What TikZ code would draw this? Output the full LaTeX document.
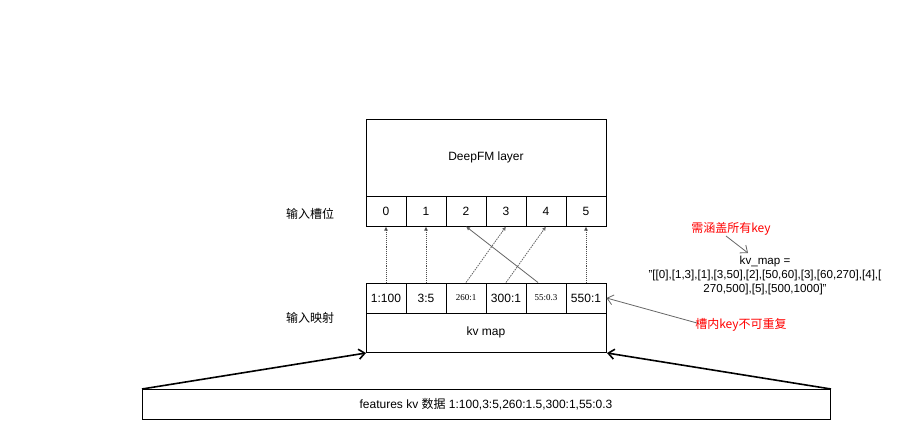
\documentclass[tikz,border=0pt]{standalone}
\usepackage{fontspec}
\setmainfont{Liberation Sans}
\newfontfamily\cjk{Noto Sans CJK SC}
\newfontfamily\smserif{Liberation Serif}
\usetikzlibrary{arrows.meta,calc}
\definecolor{redtxt}{HTML}{FF0000}
\definecolor{greyline}{HTML}{666666}
\begin{document}
\begin{tikzpicture}[x=1pt,y=-1pt,
  every node/.style={font=\fontsize{12}{14}\selectfont, inner sep=0pt},
  box/.style={draw=black, line width=1pt, minimum width=40pt, minimum height=30pt},
  bigbox/.style={draw=black, line width=1pt, anchor=north west},
  slotarrow/.style={densely dotted, line width=0.9pt, draw=black!70, -{Latex[length=4pt,width=4pt]}},
  crossarrow/.style={dashed, dash pattern=on 1.5pt off 1pt, line width=0.8pt, draw=greyline, -{Latex[length=4pt,width=4pt]}},
  solidarrow/.style={line width=0.8pt, draw=greyline, -{Latex[length=4pt,width=4pt]}},
  thickarrow/.style={line width=1.6pt, draw=black, -{Straight Barb[length=6pt,width=10pt]}},
  notearrow/.style={line width=0.8pt, draw=greyline, -{Straight Barb[length=6pt,width=10pt]}},
  redlabel/.style={text=redtxt},
  smallnum/.style={font=\smserif\fontsize{9}{10}\selectfont}
]
\useasboundingbox (0,0) rectangle (904,440);

% DeepFM layer
\node[bigbox, minimum width=240pt, minimum height=77pt] (deep) at (366,119) {};
\node (deeplabel) at (486,157.5) {DeepFM layer};
% slots
\node[box] (s0) at (386,211) {0};
\node[box] (s1) at (426,211) {1};
\node[box] (s2) at (466,211) {2};
\node[box] (s3) at (506,211) {3};
\node[box] (s4) at (546,211) {4};
\node[box] (s5) at (586,211) {5};

% kv map
\node[box] (m0) at (386,298) {1:100};
\node[box] (m1) at (426,298) {3:5};
\node[box, smallnum] (m2) at (466,298) {260:1};
\node[box] (m3) at (506,298) {300:1};
\node[box, smallnum] (m4) at (546,298) {55:0.3};
\node[box] (m5) at (586,298) {550:1};
\node[bigbox, minimum width=240pt, minimum height=39pt] (kv) at (366,313) {};
\node (kvlabel) at (486,332) {kv map};

% features
\node[bigbox, minimum width=688pt, minimum height=30pt] (feat) at (142,389) {};
\node (featlabel) at (486,404) {features kv {\cjk 数据} 1:100,3:5,260:1.5,300:1,55:0.3};

% left labels
\node (lab1) at (310,214) {\cjk 输入槽位};
\node (lab2) at (310,318) {\cjk 输入映射};

% slot arrows
\draw[slotarrow] (m0.north) -- (s0.south);
\draw[slotarrow] (m1.north) -- (s1.south);
\draw[slotarrow] (m5.north) -- (s5.south);
\draw[crossarrow] (m2.north) -- (s3.south);
\draw[crossarrow] (m3.north) -- (s4.south);
\draw[solidarrow] ($(m4.north)+(-8,0)$) -- (s2.south);

% thick arrows
\draw[thickarrow] (feat.north west) -- (kv.south west);
\draw[thickarrow] (feat.north east) -- (kv.south east);

% notes
\node[redlabel] (note1) at (731,229) {\cjk 需涵盖所有key};
\node[align=center, font=\fontsize{11.6}{14}\selectfont] (kvtext) at (765,275)
  {kv\_map =\\ "[[0],[1,3],[1],[3,50],[2],[50,60],[3],[60,270],[4],[\\270,500],[5],[500,1000]"};
\node[redlabel] (note2) at (741,325) {\cjk 槽内key不可重复};
\coordinate (n1tip) at (748,253);
\coordinate (n1start) at (726,236);
\draw[notearrow] (n1start) -- (n1tip);
\coordinate (n2start) at (697,323);
\draw[notearrow] (n2start) -- (m5.east);
\end{tikzpicture}
\end{document}
